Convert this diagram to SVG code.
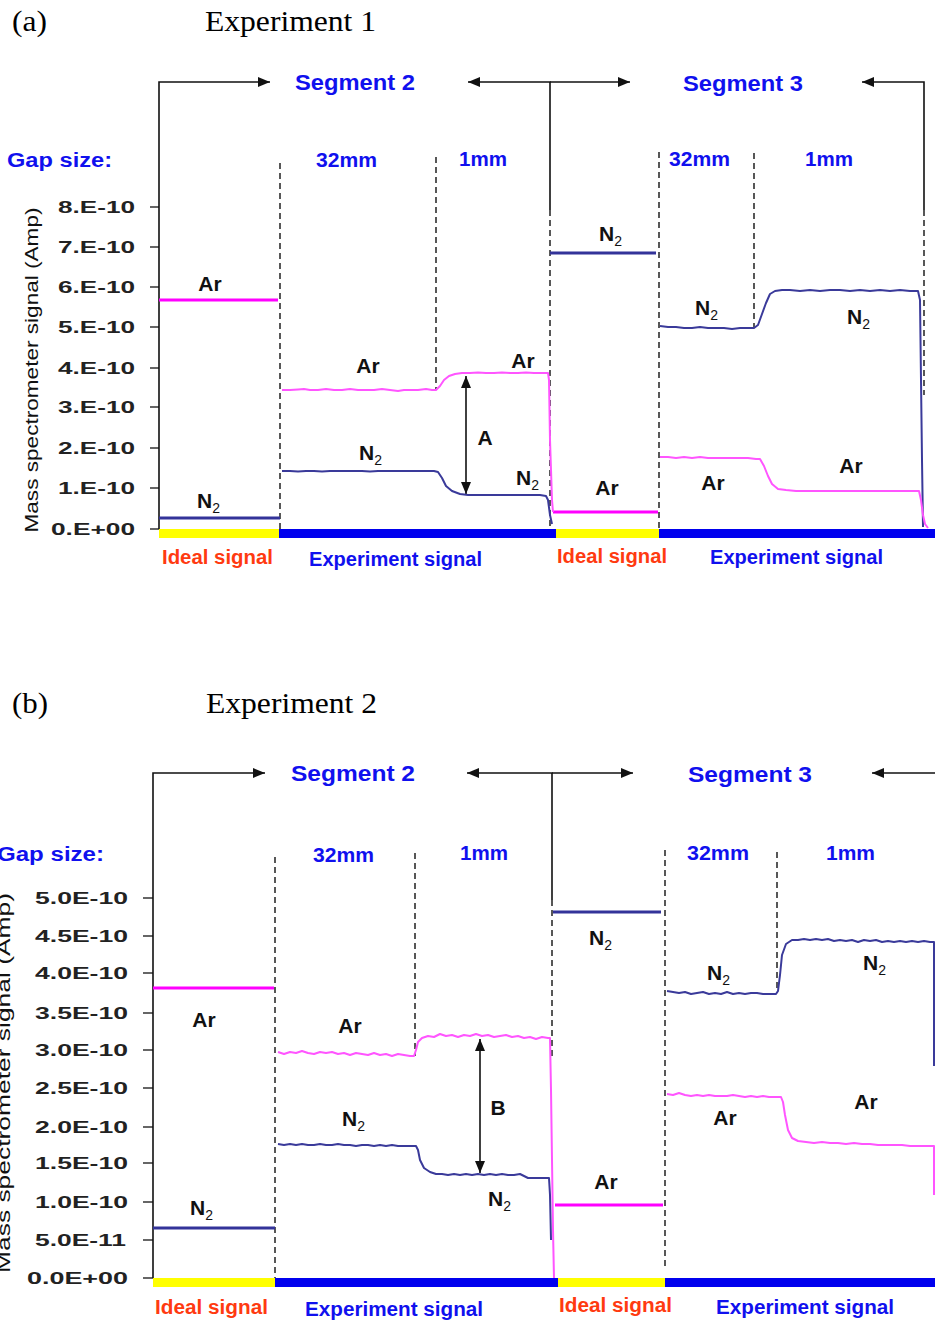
<svg xmlns="http://www.w3.org/2000/svg" width="935" height="1324" viewBox="0 0 935 1324">
<style>
.hdr{font-family:"Liberation Serif","Times New Roman",serif;font-size:30px;fill:#000}
.blue{font-family:"Liberation Sans",Arial,sans-serif;font-weight:bold;fill:#1010ee}
.seg{font-size:22px}
.gap{font-size:20px}
.red{font-family:"Liberation Sans",Arial,sans-serif;font-weight:bold;fill:#ff3a10;font-size:20px}
.exp{font-size:20px}
.tick{font-family:"Liberation Sans",Arial,sans-serif;font-weight:bold;font-size:17px;fill:#222;text-anchor:end}
.ytitle{font-family:"Liberation Sans",Arial,sans-serif;font-size:19px;fill:#111;text-anchor:middle}
.lbl{font-family:"Liberation Sans",Arial,sans-serif;font-weight:bold;font-size:21px;fill:#111}
.mid{text-anchor:middle}
.sub{font-size:14px;font-weight:normal}
.br{fill:none;stroke:#111;stroke-width:1.6}
.dash{fill:none;stroke:#111;stroke-width:1.4;stroke-dasharray:6,4}
.tk{stroke:#333;stroke-width:1.5}
.idAr{stroke:#ff00ff;stroke-width:3;fill:none}
.idN2{stroke:#333399;stroke-width:3;fill:none}
.exAr{stroke:#ff55ff;stroke-width:2;fill:none;stroke-linejoin:round}
.exN2{stroke:#3a3a9a;stroke-width:2;fill:none;stroke-linejoin:round}
.yel{fill:#ffff00}
.bbar{fill:#0000ee}
.ar{stroke:#111;stroke-width:1.6;fill:none}
</style>
<defs>
<marker id="ah" viewBox="0 0 12 10" refX="12" refY="5" markerWidth="12" markerHeight="10" markerUnits="userSpaceOnUse" orient="auto-start-reverse">
<path d="M0,0 L12,5 L0,10 z" fill="#111"/>
</marker>
</defs>
<rect width="935" height="1324" fill="#ffffff"/>

<!-- Panel (a) -->
<g id="panel-a-header">
<text class="hdr" x="12" y="31" textLength="35" lengthAdjust="spacingAndGlyphs">(a)</text>
<text class="hdr" x="205" y="31" textLength="171" lengthAdjust="spacingAndGlyphs">Experiment 1</text>
</g>

<g id="panel-a-axis">
<text class="ytitle" x="38" y="370" transform="rotate(-90 38 370)" textLength="325" lengthAdjust="spacingAndGlyphs">Mass spectrometer signal (Amp)</text>
<g class="tk">
<line x1="150" y1="207" x2="159" y2="207"/>
<line x1="150" y1="247" x2="159" y2="247"/>
<line x1="150" y1="287" x2="159" y2="287"/>
<line x1="150" y1="327" x2="159" y2="327"/>
<line x1="150" y1="368" x2="159" y2="368"/>
<line x1="150" y1="407" x2="159" y2="407"/>
<line x1="150" y1="448" x2="159" y2="448"/>
<line x1="150" y1="488" x2="159" y2="488"/>
<line x1="150" y1="529" x2="159" y2="529"/>
</g>
<text class="tick" x="135" y="213" textLength="77" lengthAdjust="spacingAndGlyphs">8.E-10</text>
<text class="tick" x="135" y="253" textLength="77" lengthAdjust="spacingAndGlyphs">7.E-10</text>
<text class="tick" x="135" y="293" textLength="77" lengthAdjust="spacingAndGlyphs">6.E-10</text>
<text class="tick" x="135" y="333" textLength="77" lengthAdjust="spacingAndGlyphs">5.E-10</text>
<text class="tick" x="135" y="374" textLength="77" lengthAdjust="spacingAndGlyphs">4.E-10</text>
<text class="tick" x="135" y="413" textLength="77" lengthAdjust="spacingAndGlyphs">3.E-10</text>
<text class="tick" x="135" y="454" textLength="77" lengthAdjust="spacingAndGlyphs">2.E-10</text>
<text class="tick" x="135" y="494" textLength="77" lengthAdjust="spacingAndGlyphs">1.E-10</text>
<text class="tick" x="135" y="535" textLength="84" lengthAdjust="spacingAndGlyphs">0.E+00</text>
</g>

<g id="panel-a-bars">
<rect class="yel" x="159" y="529" width="120" height="9"/>
<rect class="bbar" x="279" y="529" width="277" height="9"/>
<rect class="yel" x="556" y="529" width="103" height="9"/>
<rect class="bbar" x="659" y="529" width="276" height="9"/>
</g>

<g id="panel-a-connectors">
<path class="br" d="M159,529 V82 H270" marker-end="url(#ah)"/>
<path class="br" d="M550,210 V82 H468" marker-end="url(#ah)"/>
<path class="br" d="M550,82 H630" marker-end="url(#ah)"/>
<path class="br" d="M924,210 V82 H862" marker-end="url(#ah)"/>
<line class="dash" x1="280" y1="163" x2="280" y2="529"/>
<line class="dash" x1="436" y1="157" x2="436" y2="390"/>
<line class="dash" x1="550" y1="210" x2="550" y2="529"/>
<line class="dash" x1="659" y1="152" x2="659" y2="529"/>
<line class="dash" x1="754" y1="153" x2="754" y2="328"/>
<line class="dash" x1="924" y1="210" x2="924" y2="395"/>
<line class="ar" x1="466" y1="376" x2="466" y2="494" marker-start="url(#ah)" marker-end="url(#ah)"/>
</g>

<g id="panel-a-traces">
<line class="idAr" x1="159" y1="300" x2="278" y2="300"/>
<line class="idN2" x1="159" y1="518" x2="280" y2="518"/>
<line class="idN2" x1="550" y1="253" x2="656" y2="253"/>
<line class="idAr" x1="553" y1="512" x2="658" y2="512"/>
<polyline class="exAr" points="282,390 290,390 298,389.5 304,389 310,390 318,390 326,389 334,390 342,390 350,389 358,390 366,390 374,390 382,389 390,390 398,391 404,390 410,390 418,390 426,389 432,390 436,390 440,386 444,380 449,376 455,374 462,373 470,373 478,372.5 486,373 494,373 502,372.5 510,373 518,373 526,372.5 534,373 542,373 548,373 549,380 550,440 552,500 553,512"/>
<polyline class="exN2" points="282,471 290,471 298,471.5 306,471 314,471 322,471.5 330,471 338,471 346,471 354,471 362,471 370,471.5 378,471 386,471 394,471 402,471 410,471 418,471 426,471 434,471 438,472 442,478 446,486 452,491 460,494 468,495 476,495 484,495 492,495 500,495 508,495 516,495 524,495 532,495 540,495 546,496 548,500 550,515 552,524"/>
<polyline class="exN2" points="660,326 668,327 676,327 684,328 692,328 700,327 708,328 716,328 724,328 732,329 740,328 748,328 754,328 758,325 762,314 766,303 770,294 775,291 782,290 790,290 800,291 810,290 820,291 830,290 840,290 850,291 860,290 870,291 880,290 890,291 900,290 910,291 918,291 920,300 921,380 922,460 923,527"/>
<polyline class="exAr" points="660,457 668,457 676,458 684,457 692,458 700,457 708,458 716,458 724,458 732,458 740,458 748,458 756,459 760,459 764,466 768,476 772,484 778,489 786,490 796,491 810,491 830,491 850,491 870,491 890,491 910,491 919,491 921,500 923,515 925,524 928,528"/>
</g>

<g id="panel-a-labels">
<text class="blue seg" x="295" y="90" textLength="120" lengthAdjust="spacingAndGlyphs">Segment 2</text>
<text class="blue seg" x="683" y="91" textLength="120" lengthAdjust="spacingAndGlyphs">Segment 3</text>
<text class="blue gap" x="7" y="167" textLength="105" lengthAdjust="spacingAndGlyphs">Gap size:</text>
<text class="blue gap" x="316" y="167" textLength="61" lengthAdjust="spacingAndGlyphs">32mm</text>
<text class="blue gap" x="459" y="166" textLength="48" lengthAdjust="spacingAndGlyphs">1mm</text>
<text class="blue gap" x="669" y="166" textLength="61" lengthAdjust="spacingAndGlyphs">32mm</text>
<text class="blue gap" x="805" y="166" textLength="48" lengthAdjust="spacingAndGlyphs">1mm</text>
<text class="red" x="162" y="564" textLength="111" lengthAdjust="spacingAndGlyphs">Ideal signal</text>
<text class="blue exp" x="309" y="566" textLength="173" lengthAdjust="spacingAndGlyphs">Experiment signal</text>
<text class="red" x="557" y="563" textLength="110" lengthAdjust="spacingAndGlyphs">Ideal signal</text>
<text class="blue exp" x="710" y="564" textLength="173" lengthAdjust="spacingAndGlyphs">Experiment signal</text>
<text class="lbl mid" x="210" y="291">Ar</text>
<text class="lbl" x="197" y="508">N<tspan class="sub" dy="5">2</tspan></text>
<text class="lbl mid" x="368" y="373">Ar</text>
<text class="lbl" x="359" y="460">N<tspan class="sub" dy="5">2</tspan></text>
<text class="lbl mid" x="523" y="368">Ar</text>
<text class="lbl" x="516" y="485">N<tspan class="sub" dy="5">2</tspan></text>
<text class="lbl mid" x="485" y="445">A</text>
<text class="lbl" x="599" y="241">N<tspan class="sub" dy="5">2</tspan></text>
<text class="lbl mid" x="607" y="495">Ar</text>
<text class="lbl" x="695" y="315">N<tspan class="sub" dy="5">2</tspan></text>
<text class="lbl" x="847" y="324">N<tspan class="sub" dy="5">2</tspan></text>
<text class="lbl mid" x="713" y="490">Ar</text>
<text class="lbl mid" x="851" y="473">Ar</text>
</g>

<!-- Panel (b) -->
<g id="panel-b-header">
<text class="hdr" x="12" y="713" textLength="36" lengthAdjust="spacingAndGlyphs">(b)</text>
<text class="hdr" x="206" y="713" textLength="171" lengthAdjust="spacingAndGlyphs">Experiment 2</text>
</g>

<g id="panel-b-axis">
<text class="ytitle" x="10" y="1083" font-size="21" transform="rotate(-90 10 1083)" textLength="380" lengthAdjust="spacingAndGlyphs">Mass spectrometer signal (Amp)</text>
<g class="tk">
<line x1="143" y1="898" x2="153" y2="898"/>
<line x1="143" y1="936" x2="153" y2="936"/>
<line x1="143" y1="973" x2="153" y2="973"/>
<line x1="143" y1="1013" x2="153" y2="1013"/>
<line x1="143" y1="1050" x2="153" y2="1050"/>
<line x1="143" y1="1088" x2="153" y2="1088"/>
<line x1="143" y1="1127" x2="153" y2="1127"/>
<line x1="143" y1="1163" x2="153" y2="1163"/>
<line x1="143" y1="1202" x2="153" y2="1202"/>
<line x1="143" y1="1240" x2="153" y2="1240"/>
<line x1="143" y1="1278" x2="153" y2="1278"/>
</g>
<text class="tick" x="128" y="904" textLength="93" lengthAdjust="spacingAndGlyphs">5.0E-10</text>
<text class="tick" x="128" y="942" textLength="93" lengthAdjust="spacingAndGlyphs">4.5E-10</text>
<text class="tick" x="128" y="979" textLength="93" lengthAdjust="spacingAndGlyphs">4.0E-10</text>
<text class="tick" x="128" y="1019" textLength="93" lengthAdjust="spacingAndGlyphs">3.5E-10</text>
<text class="tick" x="128" y="1056" textLength="93" lengthAdjust="spacingAndGlyphs">3.0E-10</text>
<text class="tick" x="128" y="1094" textLength="93" lengthAdjust="spacingAndGlyphs">2.5E-10</text>
<text class="tick" x="128" y="1133" textLength="93" lengthAdjust="spacingAndGlyphs">2.0E-10</text>
<text class="tick" x="128" y="1169" textLength="93" lengthAdjust="spacingAndGlyphs">1.5E-10</text>
<text class="tick" x="128" y="1208" textLength="93" lengthAdjust="spacingAndGlyphs">1.0E-10</text>
<text class="tick" x="126" y="1246" textLength="91" lengthAdjust="spacingAndGlyphs">5.0E-11</text>
<text class="tick" x="128" y="1284" textLength="101" lengthAdjust="spacingAndGlyphs">0.0E+00</text>
</g>

<g id="panel-b-bars">
<rect class="yel" x="153" y="1278" width="122" height="9"/>
<rect class="bbar" x="275" y="1278" width="283" height="9"/>
<rect class="yel" x="558" y="1278" width="107" height="9"/>
<rect class="bbar" x="665" y="1278" width="270" height="9"/>
</g>

<g id="panel-b-connectors">
<path class="br" d="M153,1278 V773 H265" marker-end="url(#ah)"/>
<path class="br" d="M552,900 V773 H467" marker-end="url(#ah)"/>
<path class="br" d="M552,773 H633" marker-end="url(#ah)"/>
<path class="br" d="M935,773 H872" marker-end="url(#ah)"/>
<line class="dash" x1="275" y1="857" x2="275" y2="1278"/>
<line class="dash" x1="415" y1="853" x2="415" y2="1056"/>
<line class="dash" x1="552" y1="900" x2="552" y2="1060"/>
<line class="dash" x1="665" y1="850" x2="665" y2="1268"/>
<line class="dash" x1="777" y1="852" x2="777" y2="993"/>
<line class="ar" x1="480" y1="1039" x2="480" y2="1173" marker-start="url(#ah)" marker-end="url(#ah)"/>
</g>

<g id="panel-b-traces">
<line class="idAr" x1="153" y1="988" x2="274" y2="988"/>
<line class="idN2" x1="153" y1="1228" x2="275" y2="1228"/>
<line class="idN2" x1="553" y1="912" x2="661" y2="912"/>
<line class="idAr" x1="555" y1="1205" x2="663" y2="1205"/>
<polyline class="exAr" points="278,1052 284,1054 290,1052 296,1053 302,1051 308,1053 314,1054 320,1052 326,1053 332,1052 338,1054 344,1053 350,1055 356,1053 362,1054 368,1055 374,1053 380,1055 386,1054 392,1056 398,1054 404,1055 410,1056 414,1056 416,1050 418,1042 422,1038 428,1036 434,1037 440,1034 446,1036 452,1035 458,1037 464,1035 470,1036 476,1034 482,1036 488,1035 494,1037 500,1036 506,1035 512,1037 518,1036 524,1038 530,1037 536,1039 542,1037 548,1038 550,1038 551,1090 552,1160 553,1230 554,1278"/>
<polyline class="exN2" points="278,1144 284,1145 290,1144 296,1145 302,1144 308,1145 314,1145 320,1144 326,1145 332,1145 338,1144 344,1145 350,1145 356,1146 362,1145 368,1145 374,1146 380,1145 386,1146 392,1145 398,1146 404,1146 410,1146 416,1146 418,1150 420,1160 424,1168 430,1172 436,1174 442,1174 448,1175 454,1174 460,1175 466,1174 472,1175 478,1174 484,1175 490,1174 496,1175 502,1174 508,1175 514,1175 520,1174 528,1178 536,1178 544,1178 549,1178 550,1195 551,1240"/>
<polyline class="exN2" points="667,991 673,992 679,993 685,992 691,994 697,993 703,992 709,994 715,993 721,994 727,992 733,994 739,993 745,994 751,993 757,993 763,994 769,994 776,994 778,991 780,975 782,955 786,944 792,940 798,940 804,939 810,940 816,939 822,940 828,939 834,941 840,940 846,941 852,940 858,942 864,940 870,941 876,940 882,942 888,941 894,942 900,941 906,942 912,941 918,942 924,941 930,942 934,942 934,1066"/>
<polyline class="exAr" points="667,1094 673,1095 679,1093 685,1095 691,1096 697,1095 703,1096 709,1095 715,1096 721,1096 727,1096 733,1095 739,1096 745,1097 751,1096 757,1097 763,1096 769,1097 775,1097 781,1097 783,1102 785,1115 788,1130 792,1138 798,1141 806,1142 814,1143 822,1142 830,1143 838,1143 846,1144 854,1143 862,1144 870,1144 878,1145 886,1145 894,1145 902,1145 910,1146 918,1146 926,1146 934,1146 934,1195"/>
</g>

<g id="panel-b-labels">
<text class="blue seg" x="291" y="781" textLength="124" lengthAdjust="spacingAndGlyphs">Segment 2</text>
<text class="blue seg" x="688" y="782" textLength="124" lengthAdjust="spacingAndGlyphs">Segment 3</text>
<text class="blue gap" x="-3" y="861" textLength="107" lengthAdjust="spacingAndGlyphs">Gap size:</text>
<text class="blue gap" x="313" y="862" textLength="61" lengthAdjust="spacingAndGlyphs">32mm</text>
<text class="blue gap" x="460" y="860" textLength="48" lengthAdjust="spacingAndGlyphs">1mm</text>
<text class="blue gap" x="687" y="860" textLength="62" lengthAdjust="spacingAndGlyphs">32mm</text>
<text class="blue gap" x="826" y="860" textLength="49" lengthAdjust="spacingAndGlyphs">1mm</text>
<text class="red" x="155" y="1314" textLength="113" lengthAdjust="spacingAndGlyphs">Ideal signal</text>
<text class="blue exp" x="305" y="1316" textLength="178" lengthAdjust="spacingAndGlyphs">Experiment signal</text>
<text class="red" x="559" y="1312" textLength="113" lengthAdjust="spacingAndGlyphs">Ideal signal</text>
<text class="blue exp" x="716" y="1314" textLength="178" lengthAdjust="spacingAndGlyphs">Experiment signal</text>
<text class="lbl mid" x="204" y="1027">Ar</text>
<text class="lbl" x="190" y="1215">N<tspan class="sub" dy="5">2</tspan></text>
<text class="lbl mid" x="350" y="1033">Ar</text>
<text class="lbl" x="342" y="1126">N<tspan class="sub" dy="5">2</tspan></text>
<text class="lbl mid" x="498" y="1115">B</text>
<text class="lbl" x="488" y="1206">N<tspan class="sub" dy="5">2</tspan></text>
<text class="lbl" x="589" y="945">N<tspan class="sub" dy="5">2</tspan></text>
<text class="lbl mid" x="606" y="1189">Ar</text>
<text class="lbl" x="707" y="980">N<tspan class="sub" dy="5">2</tspan></text>
<text class="lbl" x="863" y="970">N<tspan class="sub" dy="5">2</tspan></text>
<text class="lbl mid" x="725" y="1125">Ar</text>
<text class="lbl mid" x="866" y="1109">Ar</text>
</g>
</svg>
